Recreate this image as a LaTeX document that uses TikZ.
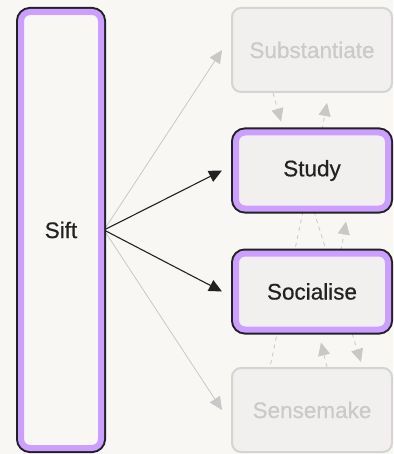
\documentclass[tikz,border=0pt]{standalone}
\usepackage{fontspec}
\setmainfont{Liberation Sans}[FakeBold=0.5]
\usepackage{xcolor}
\usetikzlibrary{arrows.meta,backgrounds}

\definecolor{paper}{HTML}{F8F7F4}
\definecolor{boxfill}{HTML}{F1F0EE}
\definecolor{lilac}{HTML}{CC9EFF}
\definecolor{ink}{HTML}{222222}
\definecolor{ghostline}{HTML}{D4D4D4}
\definecolor{ghosttext}{HTML}{CACACA}
\definecolor{ghostedge}{HTML}{C8C8C8}

\begin{document}
\begin{tikzpicture}[x=1pt, y=-1pt,
    font=\fontsize{22.5}{26}\selectfont,
    box/.style={rounded corners=9pt, inner sep=0pt},
    ghost/.style={box, draw=ghostline, line width=2pt, fill=boxfill, text=ghosttext,
        minimum width=160pt, minimum height=84pt},
    active/.style={box, draw=lilac, line width=6pt, fill=boxfill, text=ink,
        minimum width=152pt, minimum height=76pt, preaction={draw=ink, line width=10pt}},
    lead/.style={draw=ink, line width=1.1pt, -{Triangle[length=13pt,width=12pt]}},
    faint/.style={draw=ghostedge, line width=0.8pt, -{Triangle[length=13pt,width=12pt]}},
    loop/.style={draw=ghostedge, line width=0.8pt, dash pattern=on 4pt off 4pt},
    looparrow/.style={loop, -{Triangle[length=13pt,width=12pt]}}]
    \useasboundingbox (0,0) rectangle (393,454);

    \node[active, fill=paper, minimum width=80pt, minimum height=436pt] (sift) at (61,230) {Sift};
    \node[ghost] (subst) at (312,50) {Substantiate};
    \node[active] (study) at (312,170.5) {Study};
    \node[active] (social) at (312,291.5) {Socialise};
    \node[ghost] (sense) at (312,410) {Sensemake};

    \begin{scope}[on background layer]
        \fill[paper] (0,0) rectangle (393,454);

        \draw[faint] (sift.east) -- ([xshift=-9pt]subst.west);
        \draw[lead] (sift.east) -- ([xshift=-11pt]study.west);
        \draw[lead] (sift.east) -- ([xshift=-11pt]social.west);
        \draw[faint] (sift.east) -- ([xshift=-9pt]sense.west);

        \draw[looparrow] ([xshift=-39pt]subst.south) -- ([xshift=-31pt,yshift=8pt]study.north);
        \draw[looparrow] ([xshift=10pt]study.north) -- ([xshift=15pt,yshift=-10pt]subst.south);
        \draw[looparrow] ([xshift=2pt]study.south) -- ([xshift=49pt,yshift=5pt]sense.north);
        \draw[loop] ([xshift=-9pt]study.south) -- ([xshift=-42pt]sense.north);
        \draw[looparrow] ([xshift=29pt]social.north) -- ([xshift=34pt,yshift=-10pt]study.south);
        \draw[looparrow] ([xshift=15pt]sense.north) -- ([xshift=9pt,yshift=-10pt]social.south);
    \end{scope}
\end{tikzpicture}
\end{document}
